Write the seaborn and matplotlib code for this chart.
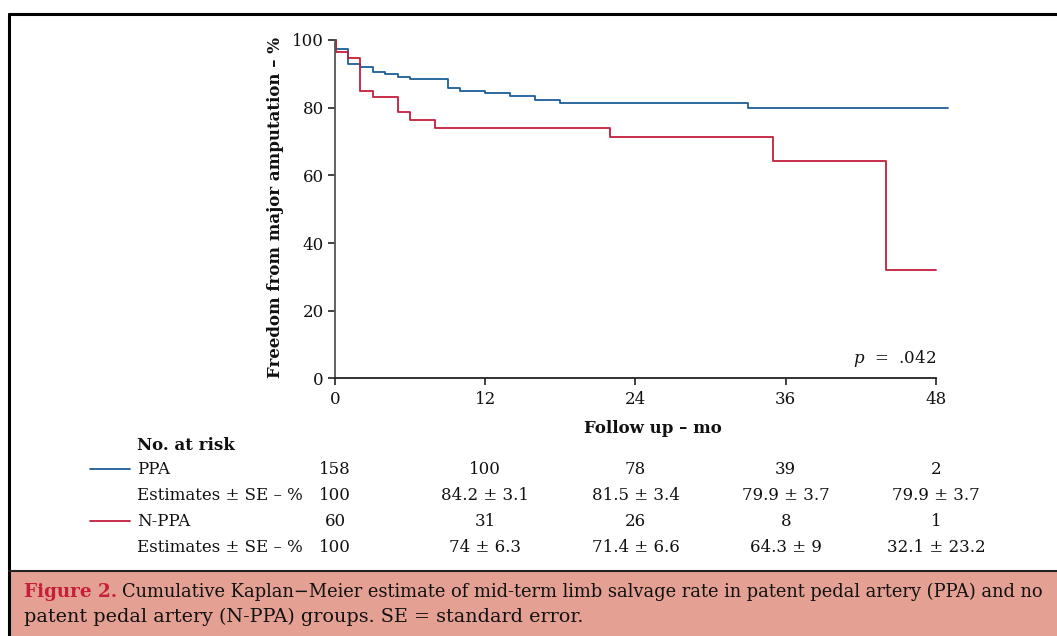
import numpy as np
import pandas as pd
import matplotlib
matplotlib.use("Agg")
import matplotlib.pyplot as plt
import seaborn as sns
from matplotlib.patches import Rectangle
from matplotlib.lines import Line2D

# ---- data ----
ppa_time = [0, 0.1, 1, 2, 3, 4, 5, 6, 9, 10, 12, 14, 16, 18, 33, 49]
ppa_surv = [100, 97.3, 92.8, 92.1, 90.5, 90.0, 89.1, 88.5, 85.9, 85.0, 84.2, 83.4, 82.4, 81.5, 79.9, 79.9]
nppa_time = [0, 0.1, 1, 2, 3, 5, 6, 8, 22, 35, 44, 48]
nppa_surv = [100, 96.6, 94.8, 85.0, 83.1, 78.7, 76.5, 74.0, 71.4, 64.3, 32.1, 32.1]

groups = ["PPA", "N-PPA"]
risk_times = [0, 12, 24, 36, 48]
ppa_risk = ["158", "100", "78", "39", "2"]
ppa_est = ["100", "84.2 \u00b1 3.1", "81.5 \u00b1 3.4", "79.9 \u00b1 3.7", "79.9 \u00b1 3.7"]
nppa_risk = ["60", "31", "26", "8", "1"]
nppa_est = ["100", "74 \u00b1 6.3", "71.4 \u00b1 6.6", "64.3 \u00b1 9", "32.1 \u00b1 23.2"]
x_ticks = [0, 12, 24, 36, 48]
y_ticks = [0, 20, 40, 60, 80, 100]

BLUE = "#1b5e96"
RED = "#c41e3a"

sns.set_theme(style="white")
plt.rcParams["font.family"] = ["DejaVu Serif"]
plt.rcParams["mathtext.fontset"] = "dejavuserif"

df = pd.concat([
    pd.DataFrame({"time": ppa_time, "surv": ppa_surv, "group": groups[0]}),
    pd.DataFrame({"time": nppa_time, "surv": nppa_surv, "group": groups[1]}),
], ignore_index=True)

W, H = 1057, 636
fig = plt.figure(figsize=(W / 100, H / 100), dpi=100)

# axes placement in pixels
x0_px, px_per_mo = 335, 12.52
y0_px, px_per_pct = 378.5, 3.385
xmax, ymax = 49.3, 102
axw, axh = xmax * px_per_mo, ymax * px_per_pct
ax = fig.add_axes([x0_px / W, 1 - y0_px / H, axw / W, axh / H])

sns.lineplot(data=df, x="time", y="surv", hue="group", palette=[BLUE, RED],
             drawstyle="steps-post", estimator=None, sort=False, legend=False,
             linewidth=1.3, ax=ax)
for ln in ax.lines:
    ln.set_clip_on(False)

ax.set_xlim(0, xmax)
ax.set_ylim(0, ymax)
ax.set_xticks(x_ticks)
ax.set_yticks(y_ticks)
ax.set_xticklabels([str(t) for t in x_ticks], fontsize=12)
ax.set_yticklabels([str(t) for t in y_ticks], fontsize=12)
for s in ["top", "right"]:
    ax.spines[s].set_visible(False)
ax.spines["left"].set_bounds(0, 100)
ax.spines["bottom"].set_bounds(0, 48)
ax.spines["left"].set_color("#555555")
ax.spines["bottom"].set_color("#222222")
ax.spines["left"].set_linewidth(1.3)
ax.spines["bottom"].set_linewidth(1.3)
ax.tick_params(axis="both", which="both", direction="out", length=5, width=1.2,
               colors="#222222", labelcolor="#111111", bottom=True, left=True, pad=4)
ax.tick_params(axis="y", pad=3)
ax.set_xlabel("Follow up \u2013 mo", fontsize=12, fontweight="bold", color="#111111")
ax.xaxis.set_label_coords((653 - x0_px) / axw, -(420 - y0_px) / axh, transform=ax.transAxes)
ax.set_ylabel("Freedom from major amputation \u2013 %", fontsize=12, fontweight="bold", color="#111111")
ax.yaxis.set_label_coords(-(x0_px - 284) / axw, (y0_px - 208) / axh, transform=ax.transAxes)
ax.text(48, 6, "$p$  =  .042", ha="right", va="center", fontsize=12, color="#111111")
ax.set_facecolor("none")

# ---- risk table ----
def fx(px):
    return px / W

def fy(py):
    return 1 - py / H

def data_x(t):
    return (x0_px + t * px_per_mo) / W

fig.text(fx(137), fy(445), "No. at risk", fontsize=12, fontweight="bold", va="center", ha="left", color="#111111")
rows = [
    (469, groups[0], ppa_risk, BLUE),
    (495, "Estimates \u00b1 SE \u2013 %", ppa_est, None),
    (521, groups[1], nppa_risk, RED),
    (547, "Estimates \u00b1 SE \u2013 %", nppa_est, None),
]
for py, label, vals, col in rows:
    fig.text(fx(137), fy(py), label, fontsize=12, va="center", ha="left", color="#111111")
    if col is not None:
        fig.add_artist(Line2D([fx(90), fx(130)], [fy(py), fy(py)], color=col, lw=1.3))
    for t, v in zip(risk_times, vals):
        fig.text(data_x(t), fy(py), v, fontsize=12, va="center", ha="center", color="#111111")

# ---- frame and caption ----
fig.add_artist(Line2D([fx(8.5), fx(W)], [fy(13.5), fy(13.5)], color="black", lw=2.2))
fig.add_artist(Line2D([fx(8.5), fx(8.5)], [fy(13.5), fy(H)], color="black", lw=2.2))
fig.add_artist(Rectangle((fx(8.5), 0), 1 - fx(8.5), fy(570.5), transform=fig.transFigure,
                         facecolor="#e4a093", edgecolor="none", zorder=0))
fig.add_artist(Line2D([fx(8.5), fx(W)], [fy(570.5), fy(570.5)], color="#222222", lw=1.5))

cap_fs = 13.2
t1 = fig.text(fx(24), fy(592), "Figure 2.", fontsize=cap_fs, fontweight="bold", color=RED,
              va="center", ha="left")
fig.canvas.draw()
bb = t1.get_window_extent()
t2 = fig.text((bb.x1 + 5) / W, fy(592),
              "Cumulative Kaplan\u2212Meier estimate of mid-term limb salvage rate in patent pedal artery (PPA) and no",
              fontsize=cap_fs, color="#111111", va="center", ha="left")
fig.canvas.draw()
bb2 = t2.get_window_extent()
target = 1050 - (bb.x1 + 5)
if bb2.width > target:
    t2.set_fontsize(cap_fs * target / bb2.width)
fig.text(fx(24), fy(617), "patent pedal artery (N-PPA) groups. SE = standard error.",
         fontsize=13.8, color="#111111", va="center", ha="left")

fig.savefig("out.png", dpi=100)
